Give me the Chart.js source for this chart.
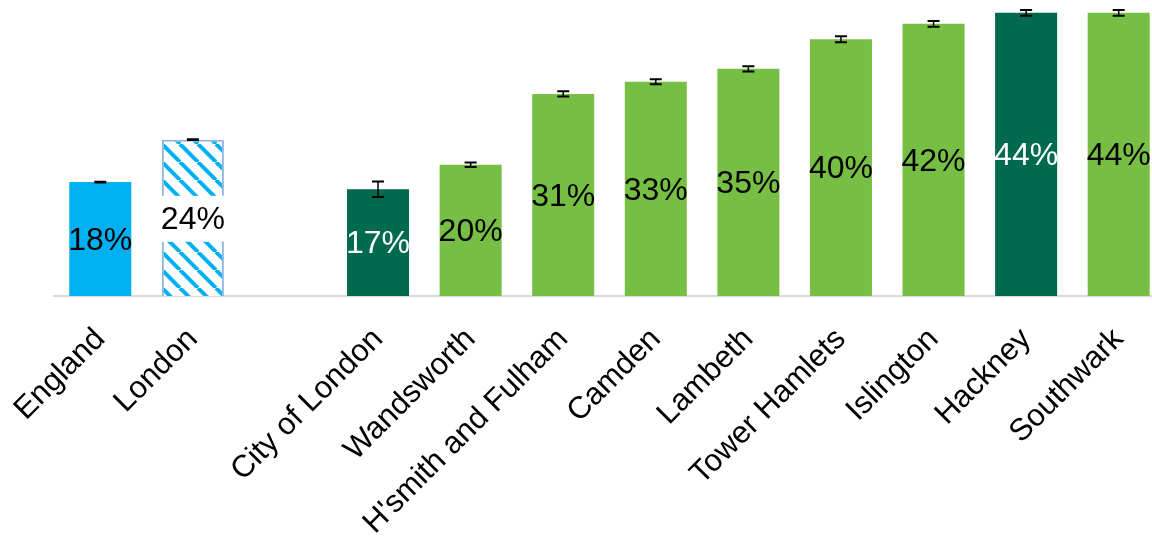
<!DOCTYPE html>
<html>
<head>
<meta charset="utf-8">
<script src="https://cdn.jsdelivr.net/npm/chart.js@4.4.1/dist/chart.umd.min.js"></script>
<style>
  html, body { margin: 0; padding: 0; background: #fff; overflow: hidden; }
  #wrap { position: relative; width: 1165px; height: 539px; }
</style>
</head>
<body>
<div id="wrap"><canvas id="chart"></canvas></div>
<script>
// Chart data
const categories = ["England", "London", "", "City of London", "Wandsworth", "H'smith and Fulham",
  "Camden", "Lambeth", "Tower Hamlets", "Islington", "Hackney", "Southwark"];
const values = [17.7, 24.3, null, 16.6, 20.4, 31.4, 33.3, 35.3, 39.9, 42.3, 44.0, 44.0];
const errors = [0.05, 0.05, null, 1.2, 0.35, 0.4, 0.4, 0.4, 0.45, 0.45, 0.45, 0.45];

const BLUE = "#00B0F0";
const GREEN = "#77BF44";
const DARK = "#006A4E";
const FONT = "'Liberation Sans', Arial, sans-serif";

// hatch pattern for London
function makeHatch() {
  const c = document.createElement("canvas");
  c.width = 18;
  c.height = 18;
  const g = c.getContext("2d");
  g.fillStyle = "#fff";
  g.fillRect(0, 0, 18, 18);
  g.strokeStyle = BLUE;
  g.lineWidth = 4;
  [-18, 0, 18].forEach((x0) => {
    g.beginPath();
    g.moveTo(x0, 0);
    g.lineTo(x0 + 18, 18);
    g.stroke();
  });
  return g.createPattern(c, "repeat");
}

const ctx = document.getElementById("chart").getContext("2d");
const hatch = makeHatch();

const fills = categories.map((c) => {
  if (c === "England") return BLUE;
  if (c === "London") return hatch;
  if (c === "City of London" || c === "Hackney") return DARK;
  return GREEN;
});
const borders = categories.map((c) => (c === "London" ? "#8DB4E2" : "rgba(0,0,0,0)"));
const borderW = categories.map((c) => (c === "London" ? 2 : 0));

// labels inside bars + error bars
const barExtras = {
  id: "barExtras",
  afterDatasetsDraw(chart) {
    const g = chart.ctx;
    const y = chart.scales.y;
    const meta = chart.getDatasetMeta(0);
    g.save();
    meta.data.forEach((bar, i) => {
      const v = values[i];
      if (v == null) return;
      const mid = (bar.y + bar.base) / 2;
      if (categories[i] === "London") {
        g.fillStyle = "#fff";
        g.fillRect(bar.x - bar.width / 2 - 2, mid - 22, bar.width + 4, 46);
      }
      g.font = "32px " + FONT;
      g.textAlign = "center";
      g.textBaseline = "middle";
      g.fillStyle = fills[i] === DARK ? "#fff" : "#000";
      g.fillText(Math.round(v) + "%", bar.x, mid + 2);
    });
    // error bars
    g.strokeStyle = "#000";
    meta.data.forEach((bar, i) => {
      const v = values[i];
      if (v == null) return;
      const top = y.getPixelForValue(v + errors[i]);
      const bot = y.getPixelForValue(v - errors[i]);
      g.lineWidth = 1.5;
      g.beginPath();
      g.moveTo(bar.x, top);
      g.lineTo(bar.x, bot);
      g.stroke();
      g.lineWidth = 2;
      g.beginPath();
      g.moveTo(bar.x - 6, top);
      g.lineTo(bar.x + 6, top);
      g.moveTo(bar.x - 6, bot);
      g.lineTo(bar.x + 6, bot);
      g.stroke();
    });
    g.restore();
  },
};

new Chart(ctx, {
  type: "bar",
  data: {
    labels: categories,
    datasets: [
      {
        data: values,
        backgroundColor: fills,
        borderColor: borders,
        borderWidth: borderW,
        categoryPercentage: 1,
        barPercentage: 0.67,
      },
    ],
  },
  options: {
    responsive: true,
    maintainAspectRatio: false,
    animation: false,
    layout: { padding: { left: 54, right: 0, top: 0, bottom: 0 } },
    plugins: {
      legend: { display: false },
      tooltip: { enabled: false },
    },
    scales: {
      x: {
        grid: { display: false },
        border: { display: true, color: "#D9D9D9", width: 2 },
        ticks: {
          color: "#000",
          autoSkip: false,
          minRotation: 45,
          maxRotation: 45,
          padding: 17,
          font: { family: FONT, size: 31 },
        },
        afterFit: (scale) => {
          scale.height = 243;
        },
      },
      y: {
        display: false,
        min: 0,
        max: 46,
      },
    },
  },
  plugins: [barExtras],
});
</script>
</body>
</html>
